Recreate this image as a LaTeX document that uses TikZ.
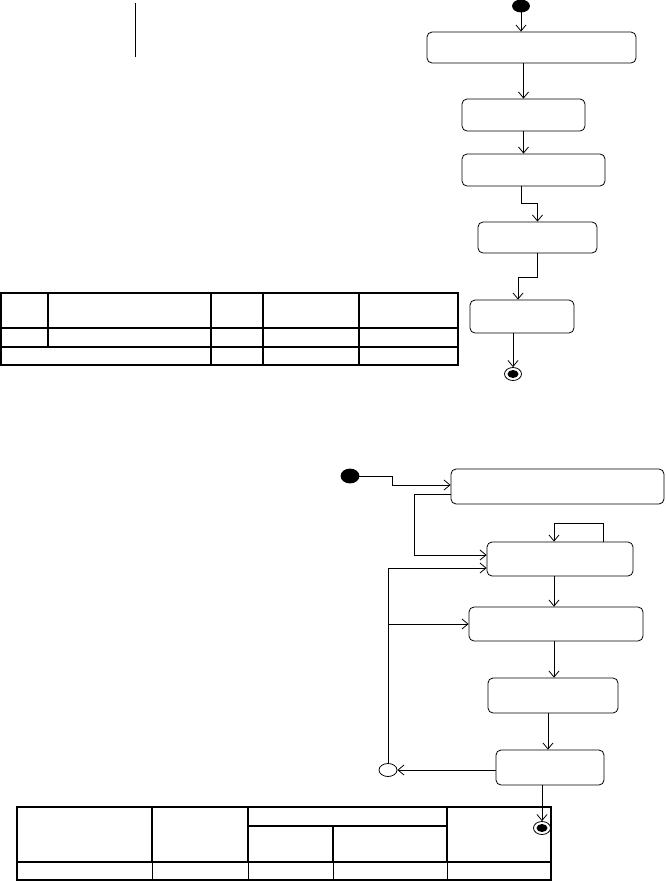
\documentclass[tikz,border=0pt]{standalone}
\usetikzlibrary{arrows.meta,shapes.geometric}

\tikzset{
  act/.style={draw, rounded corners=5pt, inner sep=0pt},
  startdot/.style={ellipse, draw, fill, inner sep=0pt, minimum width=17pt, minimum height=12pt},
  enddot/.style={ellipse, draw, inner sep=0pt, minimum width=17pt, minimum height=13pt,
    path picture={\fill (path picture bounding box.center) ellipse (5.5pt and 4pt);}},
  merge/.style={ellipse, draw, inner sep=0pt, minimum width=18pt, minimum height=13pt},
  flow/.style={-{Straight Barb[length=6pt,width=10pt]}},
  grid/.style={line width=1.3pt}
}

\begin{document}
\begin{tikzpicture}[x=1pt, y=-1pt, line width=0.8pt]
\useasboundingbox (0,0) rectangle (665,881);

\draw (135,3) -- (135,57);

\node[startdot] (s1) at (521,6) {};
\node[act, minimum width=209pt, minimum height=31pt] (t1) at (531.5,47.5) {};
\node[act, minimum width=123pt, minimum height=32pt] (t2) at (523.5,115) {};
\node[act, minimum width=143pt, minimum height=32pt] (t3) at (533.5,170) {};
\node[act, minimum width=119pt, minimum height=31pt] (t4) at (537.5,237.5) {};
\node[act, minimum width=104pt, minimum height=33pt] (t5) at (522,316.5) {};
\node[enddot] (e1) at (513,374) {};

\draw[flow] (s1.south) -- ([xshift=-10.5pt]t1.north);
\draw[flow] ([xshift=-8pt]t1.south) -- (t2.north);
\draw[flow] (t2.south) -- ([xshift=-10pt]t3.north);
\draw[flow] ([xshift=-12.5pt]t3.south) -- ++(0,17) -| (t4.north);
\draw[flow] (t4.south) -- ++(0,24) -| ([xshift=-4pt]t5.north);
\draw[flow] ([xshift=-9pt]t5.south) -- (e1.north);

\draw[grid] (1,293) rectangle (458,365);
\draw[grid] (1,328) -- (458,328);
\draw[grid] (1,347) -- (458,347);
\draw[grid] (48,293) -- (48,347);
\foreach \x in {211,263,359}
  \draw[grid] (\x,293) -- (\x,365);

\node[startdot, minimum width=18pt, minimum height=14pt] (s2) at (350,476) {};
\node[act, minimum width=213pt, minimum height=35pt] (bA) at (557.5,486.5) {};
\node[act, minimum width=146pt, minimum height=34pt] (bB) at (560,559) {};
\node[act, minimum width=174pt, minimum height=34pt] (bC) at (556,624) {};
\node[act, minimum width=130pt, minimum height=35pt] (bD) at (553,695.5) {};
\node[act, minimum width=108pt, minimum height=35pt] (bE) at (550,767.5) {};
\node[merge] (m) at (388,770) {};
\node[enddot] (e2) at (542,828) {};
\coordinate (j) at (m.north |- bC.west);

\draw[flow] (s2.east) -- ++(33,0) |- ([yshift=1.5pt]bA.west);
\draw[flow] ([yshift=-7.5pt]bA.west) -- ++(-36,0) |- ([yshift=4pt]bB.west);
\draw[flow] ([xshift=43pt]bB.north) -- ++(0,-18) -| ([xshift=-6pt]bB.north);
\draw[flow] (m.north) |- ([yshift=-9pt]bB.west);
\draw[flow] (j) -- (bC.west);
\draw[flow] ([xshift=-6pt]bB.south) -- ([xshift=-2pt]bC.north);
\draw[flow] ([xshift=-2pt]bC.south) -- ([xshift=1pt]bD.north);
\draw[flow] ([xshift=-5pt]bD.south) -- ([xshift=-2pt]bE.north);
\draw[flow] ([yshift=-2.5pt]bE.west) -- (m.east);
\draw[flow] ([xshift=-8pt]bE.south) -- (e2.north);

\draw[grid] (17,807) rectangle (551,880);
\draw[grid] (17,862) -- (551,862);
\draw[grid] (248,826) -- (447,826);
\foreach \x in {152,248,447}
  \draw[grid] (\x,807) -- (\x,862);
\foreach \x in {152,248,333,447}
  \draw (\x,862) -- (\x,880);
\draw[grid] (333,826) -- (333,862);

\end{tikzpicture}
\end{document}
